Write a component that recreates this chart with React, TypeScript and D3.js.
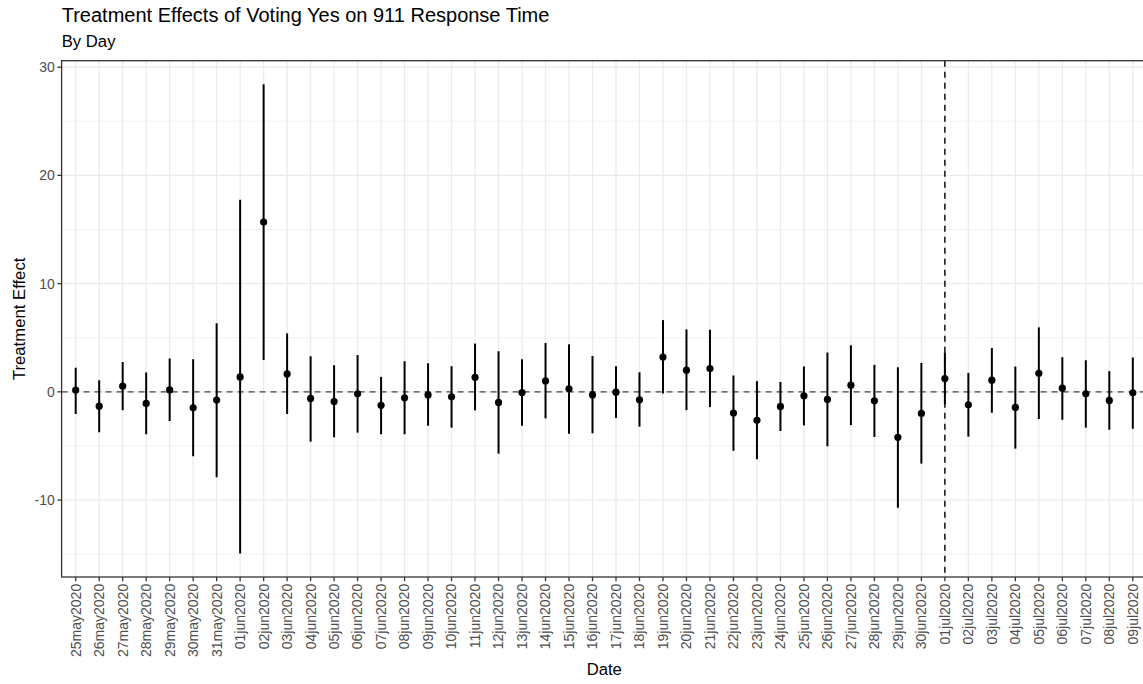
import React from "react";
import * as d3 from "d3";

const dates = [
  "25may2020","26may2020","27may2020","28may2020","29may2020","30may2020","31may2020",
  "01jun2020","02jun2020","03jun2020","04jun2020","05jun2020","06jun2020","07jun2020",
  "08jun2020","09jun2020","10jun2020","11jun2020","12jun2020","13jun2020","14jun2020",
  "15jun2020","16jun2020","17jun2020","18jun2020","19jun2020","20jun2020","21jun2020",
  "22jun2020","23jun2020","24jun2020","25jun2020","26jun2020","27jun2020","28jun2020",
  "29jun2020","30jun2020","01jul2020","02jul2020","03jul2020","04jul2020","05jul2020",
  "06jul2020","07jul2020","08jul2020","09jul2020",
];

const estimates = [
  0.16, -1.32, 0.52, -1.07, 0.18, -1.47, -0.76,
  1.38, 15.69, 1.66, -0.61, -0.89, -0.18, -1.25,
  -0.55, -0.28, -0.46, 1.35, -0.98, -0.06, 1.01,
  0.28, -0.28, -0.03, -0.74, 3.22, 2.0, 2.15,
  -1.96, -2.63, -1.35, -0.37, -0.7, 0.62, -0.83,
  -4.2, -1.99, 1.23, -1.2, 1.08, -1.44, 1.72,
  0.34, -0.18, -0.79, -0.09,
];

const lower = [
  -2.05, -3.74, -1.69, -3.92, -2.7, -5.95, -7.88,
  -14.94, 2.95, -2.05, -4.6, -4.2, -3.77, -3.92,
  -3.92, -3.13, -3.31, -1.71, -5.71, -3.13, -2.45,
  -3.87, -3.83, -2.42, -3.22, -0.15, -1.69, -1.41,
  -5.45, -6.23, -3.62, -3.1, -5.03, -3.07, -4.17,
  -10.71, -6.63, -1.15, -4.14, -1.93, -5.25, -2.51,
  -2.58, -3.31, -3.5, -3.41,
];

const upper = [
  2.23, 1.08, 2.76, 1.79, 3.07, 3.01, 6.33,
  17.74, 28.43, 5.4, 3.29, 2.46, 3.4, 1.38,
  2.83, 2.64, 2.37, 4.46, 3.75, 3.01, 4.51,
  4.39, 3.31, 2.37, 1.81, 6.63, 5.77, 5.74,
  1.51, 0.99, 0.92, 2.34, 3.63, 4.3, 2.49,
  2.27, 2.67, 3.63, 1.75, 4.05, 2.34, 5.96,
  3.2, 2.92, 1.91, 3.17,
];

const yMajor = [-10, 0, 10, 20, 30];
const yMinor = [-15, -5, 5, 15, 25];
const cutoffDate = "01jul2020";

const W = 1143;
const H = 684;
const panel = { left: 61.6, right: 1146.9, top: 60.7, bottom: 577 };
const FONT = "'Liberation Sans', Arial, Helvetica, sans-serif";

export default function App() {
  const x = d3.scalePoint<string>().domain(dates).range([panel.left, panel.right]).padding(0.6);
  const lo = d3.min(lower)!;
  const hi = d3.max(upper)!;
  const pad = (hi - lo) * 0.05;
  const y = d3.scaleLinear().domain([lo - pad, hi + pad]).range([panel.bottom, panel.top]);

  const rows = dates.map((d, i) => ({ d, est: estimates[i], lo: lower[i], hi: upper[i] }));
  const tickLen = 4.2;

  return (
    <svg
      width={W}
      height={H}
      style={{ position: "absolute", left: 0, top: 0, display: "block", background: "#fff" }}
      fontFamily={FONT}
    >
      <defs>
        <clipPath id="pclip">
          <rect x={panel.left} y={panel.top} width={panel.right - panel.left} height={panel.bottom - panel.top} />
        </clipPath>
      </defs>
      <rect x={0} y={0} width={W} height={H} fill="#fff" />
      <text x={61.7} y={21.7} fontSize={20} fill="#000">Treatment Effects of Voting Yes on 911 Response Time</text>
      <text x={61.7} y={46.5} fontSize={16.7} fill="#000">By Day</text>

      <g clipPath="url(#pclip)">
        {yMinor.map((v) => (
          <line key={"mn" + v} x1={panel.left} x2={panel.right} y1={y(v)} y2={y(v)} stroke="#EBEBEB" strokeWidth={0.65} />
        ))}
        {yMajor.map((v) => (
          <line key={"mj" + v} x1={panel.left} x2={panel.right} y1={y(v)} y2={y(v)} stroke="#EBEBEB" strokeWidth={1.3} />
        ))}
        {dates.map((d) => (
          <line key={"vx" + d} x1={x(d)!} x2={x(d)!} y1={panel.top} y2={panel.bottom} stroke="#EBEBEB" strokeWidth={1.3} />
        ))}
        <line x1={panel.left} x2={panel.right} y1={y(0)} y2={y(0)} stroke="#444" strokeWidth={1.3} strokeDasharray="6,5" />
        <line x1={x(cutoffDate)!} x2={x(cutoffDate)!} y1={panel.top} y2={panel.bottom} stroke="#000" strokeWidth={1.4} strokeDasharray="6,5" />
        {rows.map((r) => (
          <g key={"pr" + r.d}>
            <line x1={x(r.d)!} x2={x(r.d)!} y1={y(r.lo)} y2={y(r.hi)} stroke="#000" strokeWidth={2} />
            <circle cx={x(r.d)!} cy={y(r.est)} r={3.6} fill="#000" />
          </g>
        ))}
      </g>
      <rect
        x={panel.left}
        y={panel.top}
        width={panel.right - panel.left}
        height={panel.bottom - panel.top}
        fill="none"
        stroke="#333333"
        strokeWidth={1.3}
      />

      {yMajor.map((v) => (
        <g key={"yt" + v}>
          <line x1={panel.left - tickLen} x2={panel.left} y1={y(v)} y2={y(v)} stroke="#333333" strokeWidth={1.3} />
          <text x={panel.left - tickLen - 2.6} y={y(v)} dy="0.35em" textAnchor="end" fontSize={14} fill="#4D4D4D">
            {v}
          </text>
        </g>
      ))}
      {dates.map((d) => (
        <g key={"xt" + d}>
          <line x1={x(d)!} x2={x(d)!} y1={panel.bottom} y2={panel.bottom + tickLen} stroke="#333333" strokeWidth={1.3} />
          <text
            transform={`translate(${x(d)!},${panel.bottom + tickLen + 2.6}) rotate(-90)`}
            dy="0.35em"
            textAnchor="end"
            fontSize={14}
            fill="#4D4D4D"
          >
            {d}
          </text>
        </g>
      ))}
      <text x={(panel.left + panel.right) / 2} y={675} textAnchor="middle" fontSize={16.7} fill="#000">Date</text>
      <text
        transform={`translate(19.5,${(panel.top + panel.bottom) / 2}) rotate(-90)`}
        dy="0.35em"
        textAnchor="middle"
        fontSize={16.7}
        fill="#000"
      >
        Treatment Effect
      </text>
    </svg>
  );
}
